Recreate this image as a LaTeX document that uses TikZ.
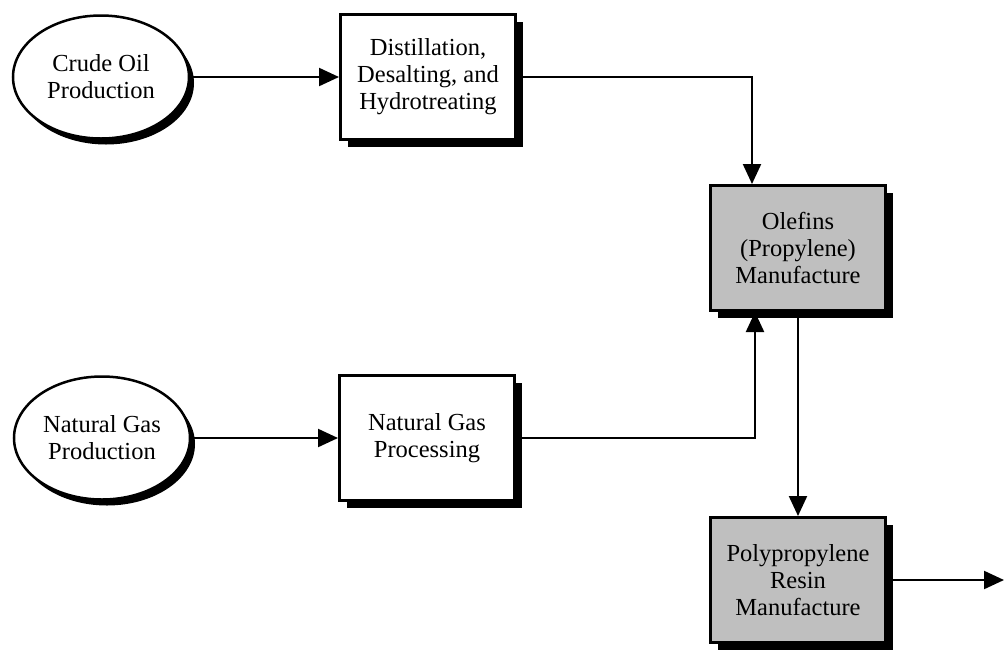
\documentclass[tikz,border=0pt]{standalone}
\usepackage{fontspec}
\setmainfont{Liberation Serif}
\usetikzlibrary{arrows.meta,shadows,shapes.geometric}
\begin{document}
\begin{tikzpicture}[x=1pt,y=-1pt,
  base/.style={font=\fontsize{24.5}{27}\selectfont, align=center, inner sep=0pt, fill=white},
  proc/.style={base, rectangle, draw, line width=3pt, minimum width=175pt, minimum height=125pt,
    drop shadow={shadow xshift=7pt, shadow yshift=-7pt, fill=black, opacity=1}},
  src/.style={base, ellipse, draw, line width=2.5pt, minimum width=176pt, minimum height=123pt,
    drop shadow={shadow xshift=5pt, shadow yshift=-6pt, fill=black, opacity=1}},
  mfg/.style={proc, fill=black!25},
  arr/.style={line width=2.2pt, -{Triangle[length=20pt,width=18pt]}}
]
\useasboundingbox (0,0) rectangle (1005,649);

\node[src]  (crude) at (101,77)  {Crude Oil\\Production};
\node[proc] (dist)  at (428,77)  {Distillation,\\Desalting, and\\Hydrotreating};
\node[mfg]  (ole)   at (798,248) {Olefins\\(Propylene)\\Manufacture};
\node[src]  (ng)    at (102,438) {Natural Gas\\Production};
\node[proc] (ngp)   at (427,438) {Natural Gas\\Processing};
\node[mfg]  (pp)    at (798,580) {Polypropylene\\Resin\\Manufacture};
\coordinate (out) at (1004,580);

\draw[arr] (crude) -- (dist);
\draw[arr] (dist.east) -| ([xshift=-46pt]ole.north);
\draw[arr] (ng) -- (ngp);
\draw[arr] (ngp.east) -| ([xshift=-43pt]ole.south);
\draw[arr] (ole) -- (pp);
\draw[arr] (pp.east) -- (out);
\end{tikzpicture}
\end{document}
